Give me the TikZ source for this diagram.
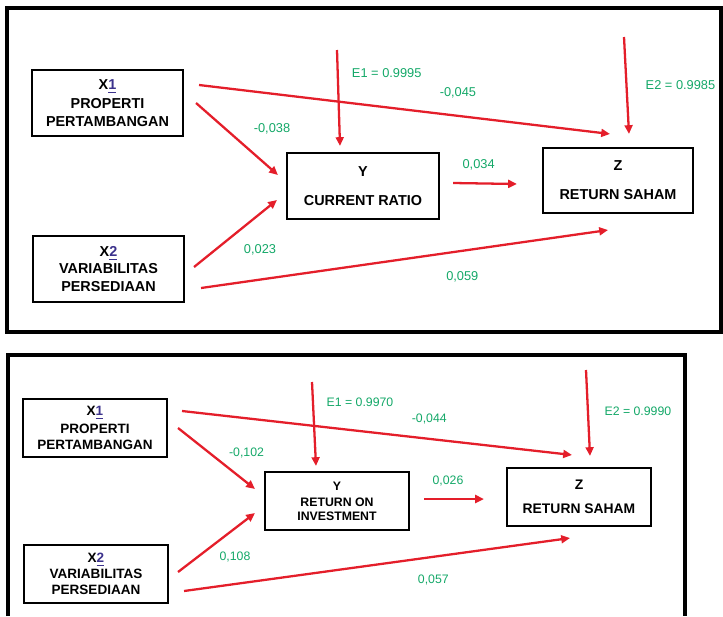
\documentclass[tikz,border=0pt]{standalone}
\usepackage{fontspec}
\setmainfont{Liberation Sans}
\usepackage{xcolor}
\usetikzlibrary{arrows.meta,positioning}

\definecolor{arrred}{RGB}{228,30,42}
\definecolor{coefgreen}{RGB}{20,168,104}
\definecolor{linkblue}{RGB}{60,50,140}

\begin{document}
\begin{tikzpicture}[
    x=0.02cm, y=-0.02cm,
    >={Triangle[length=5pt, width=4.5pt]},
    varbox/.style={draw, line width=1.2pt, align=center, inner sep=1pt,
        minimum width=3.02cm, minimum height=1.32cm,
        font=\bfseries\fontsize{8.2}{10}\selectfont},
    varboxsm/.style={varbox, minimum width=2.88cm, minimum height=1.16cm,
        font=\bfseries\fontsize{7.7}{9}\selectfont},
    link/.style={->, draw=arrred, line width=1.3pt},
    coef/.style={font=\fontsize{7.3}{8}\selectfont, text=coefgreen, inner sep=1pt},
    coefsm/.style={coef, font=\fontsize{7}{8}\selectfont},
    panel/.style={line width=2pt}
]
    \useasboundingbox (0,0) rectangle (723,616);

    % model 1: current ratio
    \draw[panel] (7,8) rectangle (721,332);

    \node[varbox] (X1a) at (107.5,103) {X{\color{linkblue}\underline{1}}\\[1pt] PROPERTI\\ PERTAMBANGAN};
    \node[varbox] (X2a) at (108.5,269) {X{\color{linkblue}\underline{2}}\\ VARIABILITAS\\ PERSEDIAAN};
    \node[varbox, minimum width=3.04cm] (Ya) at (363,186) {Y\\[6.5pt] CURRENT RATIO};
    \node[varbox, minimum width=3cm, minimum height=1.3cm] (Za) at (618,180.5) {Z\\[6.5pt] RETURN SAHAM};
    \coordinate (E1a) at (337,50);
    \coordinate (E2a) at (624,37);

    \draw[link] (E1a) -- node[coef, pos=0.24, shift={(49,0)}] {E1 = 0.9995} ([shift={(-23,-6)}]Ya.north);
    \draw[link] (E2a) -- node[coef, pos=0.5, shift={(54,0)}] {E2 = 0.9985} ([shift={(11,-13)}]Za.north);
    \draw[link] ([shift={(15,-18)}]X1a.east) -- node[coef, pos=0.63, shift={(0,-23.5)}] {-0,045} ([shift={(-8,-13)}]Za.north);
    \draw[link] ([shift={(12,0)}]X1a.east) -- node[coef, pos=0.5, shift={(35,-10)}] {-0,038} ([shift={(-8,-11)}]Ya.west);
    \draw[link] ([shift={(9,-2)}]X2a.east) -- node[coef, pos=0.5, shift={(24.5,16.5)}] {0,023} ([shift={(-9,14)}]Ya.west);
    \draw[link] ([shift={(16,19)}]X2a.east) -- node[coef, pos=0.642, shift={(0,26)}] {0,059} ([shift={(-10,16)}]Za.south);
    \draw[link] ([shift={(13,-3)}]Ya.east) -- node[coef, pos=0.4, shift={(0,-19)}] {0,034} ([shift={(-25,3.5)}]Za.west);

    % model 2: return on investment
    \draw[panel] (8,616) -- (8,355) -- (685,355) -- (685,616);

    \node[varboxsm] (X1b) at (95,428) {X{\color{linkblue}\underline{1}}\\[1pt] PROPERTI\\ PERTAMBANGAN};
    \node[varboxsm] (X2b) at (96,574) {X{\color{linkblue}\underline{2}}\\ VARIABILITAS\\ PERSEDIAAN};
    \node[varboxsm, font=\bfseries\fontsize{7}{8}\selectfont] (Yb) at (337,501) {Y\\[1pt] RETURN ON\\ INVESTMENT};
    \node[varboxsm, font=\bfseries\fontsize{7.9}{9}\selectfont] (Zb) at (579,497) {Z\\[4.5pt] RETURN SAHAM};
    \coordinate (E1b) at (312,382);
    \coordinate (E2b) at (586,370);

    \draw[link] (E1b) -- node[coefsm, pos=0.24, shift={(47,0)}] {E1 = 0.9970} ([shift={(-21,-5)}]Yb.north);
    \draw[link] (E2b) -- node[coefsm, pos=0.48, shift={(50,0)}] {E2 = 0.9990} ([shift={(11,-11)}]Zb.north);
    \draw[link] ([shift={(14,-17)}]X1b.east) -- node[coefsm, pos=0.634, shift={(0,-19.5)}] {-0,044} ([shift={(-7,-12)}]Zb.north);
    \draw[link] ([shift={(10,0)}]X1b.east) -- node[coefsm, pos=0.5, shift={(30,-6)}] {-0,102} ([shift={(-9,-12)}]Yb.west);
    \draw[link] ([shift={(9,-2)}]X2b.east) -- node[coefsm, pos=0.5, shift={(18.5,14.5)}] {0,108} ([shift={(-9,12)}]Yb.west);
    \draw[link] ([shift={(15,17)}]X2b.east) -- node[coefsm, pos=0.646, shift={(0,23)}] {0,057} ([shift={(-9,11)}]Zb.south);
    \draw[link] ([shift={(14,-2)}]Yb.east) -- node[coefsm, pos=0.4, shift={(0,-18)}] {0,026} ([shift={(-22,2)}]Zb.west);
\end{tikzpicture}
\end{document}
